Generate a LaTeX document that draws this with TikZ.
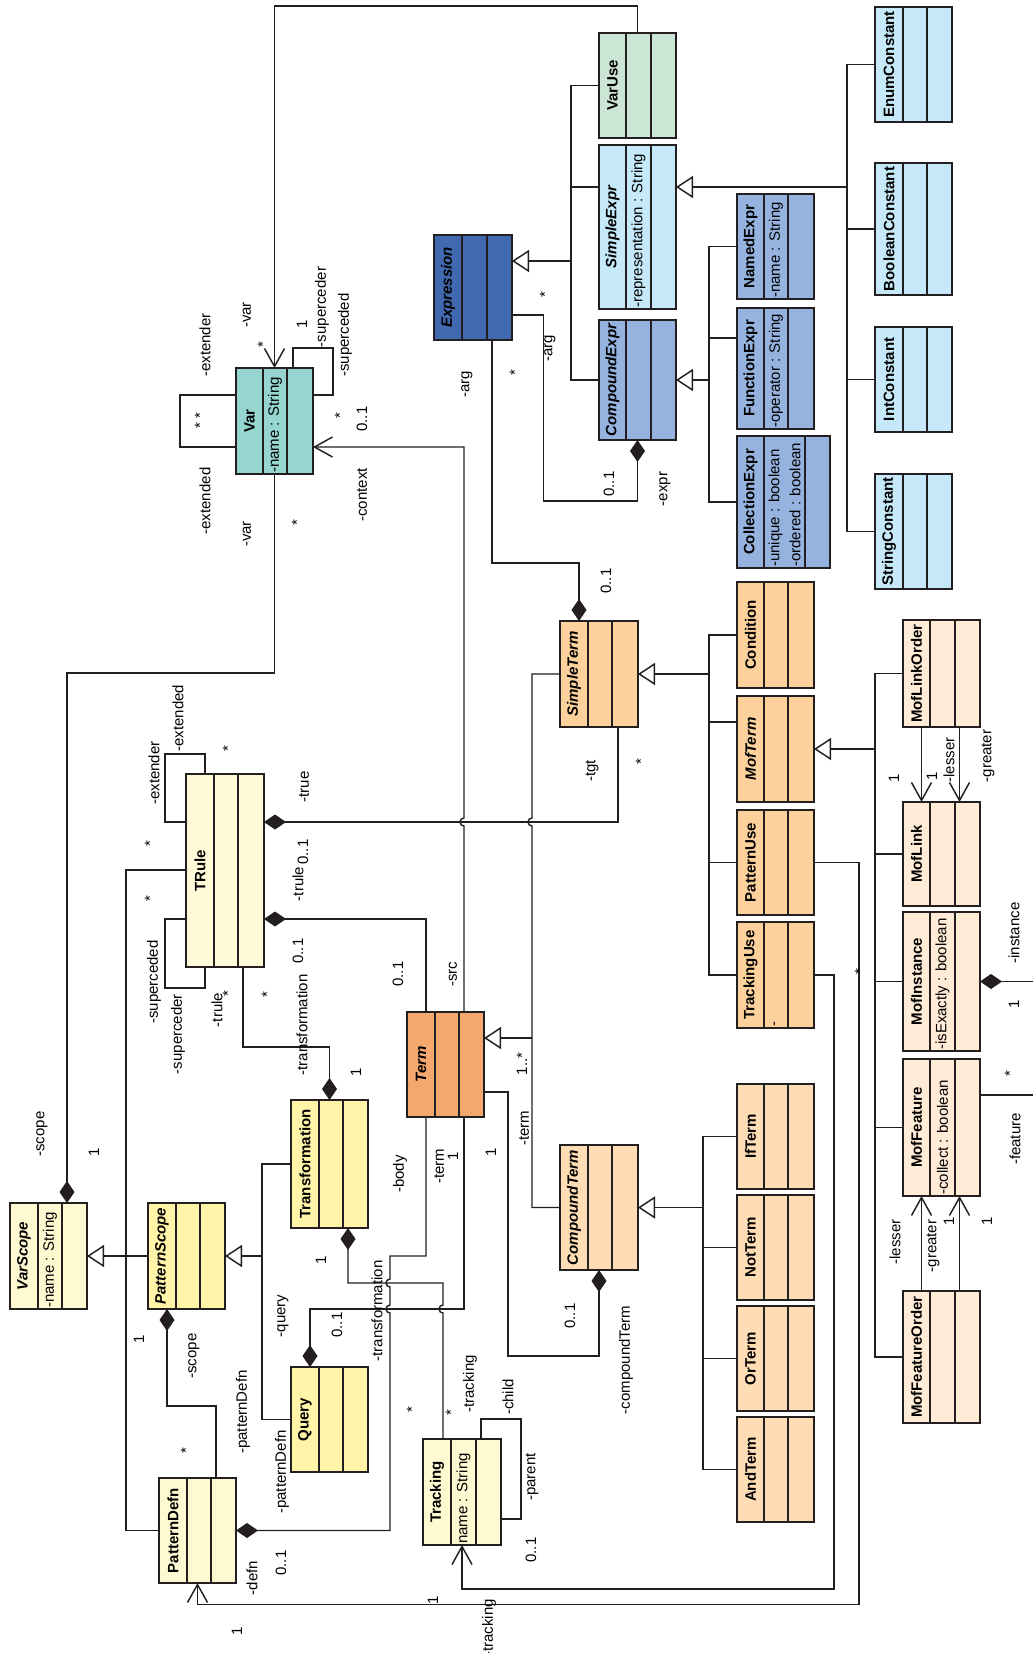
\documentclass[tikz,border=0pt]{standalone}
\usepackage{fontspec}
\setmainfont{Liberation Sans}
\usetikzlibrary{arrows.meta}
\definecolor{lineC}{HTML}{231F20}
\definecolor{varC}{HTML}{96D5D0}
\definecolor{exprDark}{HTML}{4169B0}
\definecolor{exprMid}{HTML}{95B3DE}
\definecolor{exprLight}{HTML}{C5E9F8}
\definecolor{varUseC}{HTML}{CCE6D5}
\definecolor{termDark}{HTML}{F5A86E}
\definecolor{termMid}{HTML}{FDD19C}
\definecolor{termLight}{HTML}{FFDDB4}
\definecolor{mofC}{HTML}{FFEBD6}
\definecolor{truleC}{HTML}{FFF9D7}
\definecolor{yellowC}{HTML}{FFF4A8}
\definecolor{paleY}{HTML}{FFF9D2}
\tikzset{
  cls/.style={draw=lineC, line width=1.9pt, inner sep=0pt, outer sep=0pt},
  divl/.style={draw=lineC, line width=1.9pt},
  ttl/.style={rotate=90, inner sep=0pt, font=\fontsize{15}{18}\selectfont\bfseries},
  attr/.style={rotate=90, anchor=west, inner sep=0pt, align=left, font=\fontsize{15}{21}\selectfont},
  lbl/.style={rotate=90, inner sep=0pt, font=\fontsize{15}{18}\selectfont},
  conn/.style={line width=1.45pt, draw=lineC},
  gen/.style={conn, -{Triangle[length=17pt,width=22pt,fill=white]}},
  comp/.style={conn, {Diamond[length=22pt,width=15pt]}-},
  nav/.style={conn, {Straight Barb[length=18pt,width=20pt]}-},
}
\newcounter{umllabc}
\newcommand{\umllab}[3]{\stepcounter{umllabc}\node[lbl] (lab\arabic{umllabc}) at (#1,#2) {#3};}
% name, x1, y1, x2, y2, d1, d2, fill, title
\newcommand{\umlbox}[9]{%
  \node[cls, fill=#8, minimum width={(#4-#2)*1pt}, minimum height={(#5-#3)*1pt}] (#1) at ({(#2+#4)/2},{(#3+#5)/2}) {};
  \draw[divl] (#6,#3) -- (#6,#5) (#7,#3) -- (#7,#5);
  \node[ttl] (#1-t) at ({(#2+#6)/2},{(#3+#5)/2}) {#9};
}
\begin{document}
\begin{tikzpicture}[x=1pt,y=-1pt]
\fill[white] (0,0) rectangle (1033,1653);
\useasboundingbox (0,0) rectangle (1033,1653);

% ---------- classes ----------
\umlbox{Var}{236}{368}{313}{474}{263}{287}{varC}{Var}
\node[attr] (Var-a) at (275,473) {-name : String};
\umlbox{Expression}{434}{235}{512}{340}{462}{487}{exprDark}{\itshape Expression}
\umlbox{VarUse}{599}{33}{676}{138}{626}{651}{varUseC}{VarUse}
\umlbox{SimpleExpr}{599}{145}{676}{309}{626}{651}{exprLight}{\itshape SimpleExpr}
\node[attr] (SimpleExpr-a) at (638.5,308) {-representation : String};
\umlbox{CompoundExpr}{599}{320}{676}{440}{626}{651}{exprMid}{\itshape CompoundExpr}
\umlbox{EnumConstant}{875}{7}{952}{122}{903}{927}{exprLight}{EnumConstant}
\umlbox{BooleanConstant}{875}{163}{952}{295}{903}{927}{exprLight}{BooleanConstant}
\umlbox{IntConstant}{875}{327}{952}{432}{903}{927}{exprLight}{IntConstant}
\umlbox{StringConstant}{875}{474}{952}{589}{903}{927}{exprLight}{StringConstant}
\umlbox{NamedExpr}{737}{194}{814}{299}{764}{788}{exprMid}{NamedExpr}
\node[attr] (NamedExpr-a) at (776,298) {-name : String};
\umlbox{FunctionExpr}{737}{308}{814}{429}{764}{788}{exprMid}{FunctionExpr}
\node[attr] (FunctionExpr-a) at (776,428) {-operator : String};
\umlbox{CollectionExpr}{737}{436}{830}{568}{764}{805}{exprMid}{CollectionExpr}
\node[attr] (CollectionExpr-a) at (784.5,567) {-unique : boolean\\-ordered : boolean};

\umlbox{SimpleTerm}{560}{621}{638}{727}{588}{612}{termMid}{\itshape SimpleTerm}
\umlbox{Condition}{737}{582}{814}{688}{764}{788}{termMid}{Condition}
\umlbox{MofTerm}{737}{696}{814}{802}{764}{788}{termMid}{\itshape MofTerm}
\umlbox{PatternUse}{737}{810}{814}{915}{764}{788}{termMid}{PatternUse}
\umlbox{TrackingUse}{737}{922}{814}{1028}{764}{788}{termMid}{TrackingUse}
\node[attr] (TrackingUse-a) at (776,1027) {-};
\umlbox{MofLinkOrder}{903}{620}{980}{727}{930}{955}{mofC}{MofLinkOrder}
\umlbox{MofLink}{903}{802}{980}{906}{930}{955}{mofC}{MofLink}
\umlbox{MofInstance}{903}{912}{980}{1051}{930}{955}{mofC}{MofInstance}
\node[attr] (MofInstance-a) at (942.5,1050) {-isExactly : boolean};
\umlbox{MofFeature}{903}{1059}{980}{1196}{930}{955}{mofC}{MofFeature}
\node[attr] (MofFeature-a) at (942.5,1195) {-collect : boolean};
\umlbox{MofFeatureOrder}{903}{1291}{980}{1423}{930}{955}{mofC}{MofFeatureOrder}

\umlbox{Term}{407}{1012}{484}{1117}{435}{459}{termDark}{\itshape Term}
\umlbox{CompoundTerm}{560}{1145}{638}{1270}{588}{612}{termLight}{\itshape CompoundTerm}
\umlbox{IfTerm}{737}{1084}{814}{1189}{764}{788}{termLight}{IfTerm}
\umlbox{NotTerm}{737}{1195}{814}{1300}{764}{788}{termLight}{NotTerm}
\umlbox{OrTerm}{737}{1306}{814}{1411}{764}{788}{termLight}{OrTerm}
\umlbox{AndTerm}{737}{1417}{814}{1522}{764}{788}{termLight}{AndTerm}

\umlbox{TRule}{186}{774}{264}{967}{214}{238}{truleC}{TRule}
\umlbox{Transformation}{291}{1100}{368}{1228}{319}{343}{yellowC}{Transformation}
\umlbox{Query}{291}{1367}{368}{1472}{319}{343}{yellowC}{Query}
\umlbox{PatternScope}{148}{1203}{225}{1309}{176}{200}{yellowC}{\itshape PatternScope}
\umlbox{VarScope}{10}{1203}{87}{1309}{38}{62}{paleY}{\itshape VarScope}
\node[attr] (VarScope-a) at (50,1308) {-name : String};
\umlbox{PatternDefn}{159}{1478}{236}{1583}{187}{211}{paleY}{PatternDefn}
\umlbox{Tracking}{423}{1439}{501}{1545}{451}{476}{paleY}{Tracking}
\node[attr] (Tracking-a) at (463.5,1544) {name : String};

% ---------- generalizations ----------
\draw[gen] (571,261) -- (Expression.east |- 0,261);
\draw[conn] (VarUse.west) -| (571,380) -- (CompoundExpr.west);
\draw[conn] (SimpleExpr.west |- 0,187) -- (571,187);

\draw[gen] (847,187) -- (SimpleExpr.east |- 0,187);
\draw[conn] (EnumConstant.west) -| (847,531.5) -- (StringConstant.west);
\draw[conn] (BooleanConstant.west) -- (847,229);
\draw[conn] (IntConstant.west) -- (847,379.5);

\draw[gen] (709,380) -- (CompoundExpr.east);
\draw[conn] (NamedExpr.west) -| (709,502) -- (CollectionExpr.west);
\draw[conn] (FunctionExpr.west |- 0,338) -- (709,338);

\draw[gen] (709,674) -- (SimpleTerm.east);
\draw[conn] (Condition.west) -| (709,975) -- (TrackingUse.west);
\draw[conn] (MofTerm.west |- 0,722) -- (709,722);
\draw[conn] (PatternUse.west) -- (709,862.5);

\draw[gen] (875,749) -- (MofTerm.east);
\draw[conn] (MofLinkOrder.west) -| (875,1357) -- (MofFeatureOrder.west);
\draw[conn] (MofLink.west) -- (875,854);
\draw[conn] (MofInstance.west) -- (875,981.5);
\draw[conn] (MofFeature.west) -- (875,1127.5);

\draw[gen] (703,1207.5) -- (CompoundTerm.east);
\draw[conn] (IfTerm.west) -| (703,1469.5) -- (AndTerm.west);
\draw[conn] (NotTerm.west) -- (703,1247.5);
\draw[conn] (OrTerm.west) -- (703,1358.5);

\draw[gen] (532,1038) -- (Term.east |- 0,1038);
\draw[conn] (SimpleTerm.west) -- (532,674) -- (532,818) arc[start angle=90,end angle=270,radius=4pt] -- (532,1207.5) -- (CompoundTerm.west);

\draw[gen] (262,1256) -- (PatternScope.east);
\draw[conn] (Transformation.west) -| (262,1419.5) -- (Query.west);
\draw[gen] (PatternScope.west) -- (VarScope.east);

% ---------- associations ----------
\draw[nav] (Var.north) -- (274.5,6) -| (VarUse.north);
\draw[comp] (VarScope.north -| 67,0) -- (67,673) -| (Var.south);
\draw[conn] (Var.west |- 0,395) -- (180,395) -- (180,447) -- (Var.west |- 0,447);
\draw[conn] (Var.north -| 293,0) -- (293,348) -- (333,348) -- (333,395) -- (Var.east |- 0,395);
\draw[nav] (Var.east |- 0,447) -- (464,447) -- (464,818) arc[start angle=90,end angle=270,radius=4pt] -- (Term.north -| 464,0);
\draw[comp] (CompoundExpr.south) -- (637.5,501) -- (543.5,501) -- (543.5,315) -- (Expression.east |- 0,315);
\draw[comp] (SimpleTerm.north -| 579,0) -- (579,563) -- (492,563) -- (Expression.south -| 492,0);
\draw[comp] (TRule.east |- 0,822) -- (618,822) -- (SimpleTerm.south -| 618,0);
\draw[comp] (TRule.east |- 0,919) -- (426,919) -- (Term.north -| 426,0);
\draw[comp] (Transformation.north) -- (329.5,1047) -- (243,1047) -- (TRule.south -| 243,0);
\draw[conn] (TRule.west |- 0,822) -- (165,822) -- (165,754) -- (205,754) -- (TRule.north -| 205,0);
\draw[conn] (TRule.west |- 0,919) -- (165,919) -- (165,988) -- (205,988) -- (TRule.south -| 205,0);
\draw[conn] (TRule.west |- 0,870) -- (126,870) -- (126,1530.5) -- (PatternDefn.west);
\draw[comp] (PatternScope.south -| 167,0) -- (167,1406) -- (216,1406) -- (PatternDefn.north -| 216,0);
\draw[comp] (PatternDefn.east) -- (390,1530.5) -- (390,1313) arc[start angle=270,end angle=90,radius=4pt] -- (390,1287) arc[start angle=270,end angle=90,radius=4pt] -- (390,1256) -- (426,1256) -- (Term.south -| 426,0);
\draw[comp] (Query.north -| 310,0) -- (310,1309) -- (464,1309) -- (Term.south -| 464,0);
\draw[comp] (Transformation.south -| 348,0) -- (348,1283) -- (443,1283) -- (443,1305) arc[start angle=90,end angle=270,radius=4pt] -- (Tracking.north -| 443,0);
\draw[conn] (Tracking.north -| 481,0) -- (481,1419) -- (521,1419) -- (521,1519) -- (Tracking.east |- 0,1519);
\draw[comp] (CompoundTerm.south) -- (599,1356) -- (508,1356) -- (508,1092) -- (Term.east |- 0,1092);
\draw[nav] (Tracking.south) -- (462,1589) -- (834,1589) -- (834,975) -- (TrackingUse.east);
\draw[nav] (PatternDefn.south) -- (197.5,1604.5) -- (859,1604.5) -- (859,862.5) -- (PatternUse.east);
\draw[nav] (MofLink.north -| 921.5,0) -- (MofLinkOrder.south -| 921.5,0);
\draw[nav] (MofLink.north -| 959.5,0) -- (MofLinkOrder.south -| 959.5,0);
\draw[nav] (MofFeature.south -| 921.5,0) -- (MofFeatureOrder.north -| 921.5,0);
\draw[nav] (MofFeature.south -| 959.5,0) -- (MofFeatureOrder.north -| 959.5,0);
\coordinate (edgeI) at (1033,981.5);
\coordinate (edgeF) at (1033,1095);
\draw[comp] (MofInstance.east) -- (edgeI);
\draw[conn] (MofFeature.east |- 0,1095) -- (edgeF);

% ---------- labels ----------
\umllab{205}{345}{-extender}
\umllab{247}{315}{-var}
\umllab{263}{345}{*}
\umllab{302}{324}{1}
\umllab{322}{307}{-superceder}
\umllab{345}{335}{-superceded}
\umllab{200}{421}{* *}
\umllab{340}{416}{*}
\umllab{362}{419}{0..1}
\umllab{205}{501}{-extended}
\umllab{247}{534}{-var}
\umllab{297}{523}{*}
\umllab{362}{495}{-context}
\umllab{467}{384}{-arg}
\umllab{515}{373}{*}
\umllab{545}{295}{*}
\umllab{550}{348}{-arg}
\umllab{609}{484}{0..1}
\umllab{665}{489}{-expr}
\umllab{606}{581}{0..1}
\umllab{178}{718}{-extended}
\umllab{154}{773}{-extender}
\umllab{228}{749}{*}
\umllab{304}{787}{-true}
\umllab{150}{844}{*}
\umllab{303}{852}{0..1}
\umllab{298}{884}{-trule}
\umllab{150}{899}{*}
\umllab{298}{951}{0..1}
\umllab{154}{982}{-superceded}
\umllab{217}{1010}{-trule}
\umllab{228}{994}{*}
\umllab{178}{1034}{-superceder}
\umllab{267}{995}{*}
\umllab{302}{1025}{-transformation}
\umllab{398}{974}{0..1}
\umllab{453}{974}{-src}
\umllab{356}{1072}{1}
\umllab{592}{771}{-tgt}
\umllab{641}{762}{*}
\umllab{522}{1064}{1..*}
\umllab{894}{778}{1}
\umllab{932}{776}{1}
\umllab{949}{760}{-lesser}
\umllab{988}{756}{-greater}
\umllab{860}{972}{*}
\umllab{1014}{933}{-instance}
\umllab{1014}{1004}{1}
\umllab{1010}{1074}{*}
\umllab{1015}{1139}{-feature}
\umllab{895}{1242}{-lesser}
\umllab{933}{1246}{-greater}
\umllab{949}{1221}{1}
\umllab{987}{1221}{1}
\umllab{524}{1128}{-term}
\umllab{491}{1152}{1}
\umllab{570}{1316}{0..1}
\umllab{626}{1360}{-compoundTerm}
\umllab{508}{1397}{-child}
\umllab{532}{1477}{-parent}
\umllab{531}{1550}{0..1}
\umllab{42}{1134}{-scope}
\umllab{94}{1152}{1}
\umllab{321}{1260}{1}
\umllab{400}{1174}{-body}
\umllab{439}{1166}{-term}
\umllab{453}{1156}{1}
\umllab{377}{1311}{-transformation}
\umllab{283}{1316}{-query}
\umllab{337}{1325}{0..1}
\umllab{139}{1339}{1}
\umllab{194}{1356}{-scope}
\umllab{243}{1412}{-patternDefn}
\umllab{470}{1384}{-tracking}
\umllab{186}{1451}{*}
\umllab{412}{1410}{*}
\umllab{451}{1413}{*}
\umllab{282}{1472}{-patternDefn}
\umllab{281}{1563}{0..1}
\umllab{252}{1578}{-defn}
\umllab{433}{1600}{1}
\umllab{489}{1628}{-tracking}
\umllab{237}{1631}{1}
\end{tikzpicture}
\end{document}
